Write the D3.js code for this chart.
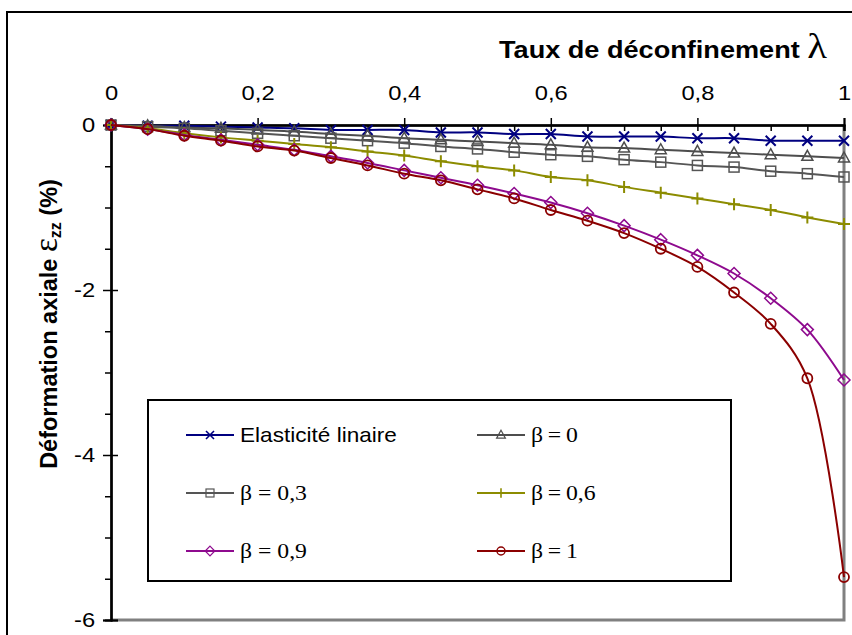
<!DOCTYPE html>
<head>
    <meta charset="utf-8">
    <script src="https://cdn.jsdelivr.net/npm/d3@7"></script>
    <style>
        body { margin: 0; background: #fff; }
    </style>
</head>
<body>
    <div id="chart"></div>
    <script>
        // taux de déconfinement (abscisse)
        const lambda = [0, 0.05, 0.1, 0.15, 0.2, 0.25, 0.3, 0.35, 0.4, 0.45, 0.5,
                        0.55, 0.6, 0.65, 0.7, 0.75, 0.8, 0.85, 0.9, 0.95, 1];

        // déformation axiale (%)
        const elastique = [0, -0.01, -0.01, -0.02, -0.03, -0.04, -0.06, -0.06, -0.06, -0.09, -0.09,
                           -0.11, -0.11, -0.14, -0.14, -0.14, -0.16, -0.16, -0.19, -0.19, -0.19];
        const beta0 = [0, -0.01, -0.03, -0.04, -0.06, -0.08, -0.11, -0.13, -0.16, -0.18, -0.20,
                       -0.22, -0.24, -0.27, -0.28, -0.30, -0.32, -0.34, -0.36, -0.38, -0.40];
        const beta03 = [0, -0.02, -0.04, -0.07, -0.10, -0.13, -0.16, -0.19, -0.22, -0.26, -0.29,
                        -0.33, -0.36, -0.38, -0.42, -0.45, -0.49, -0.51, -0.56, -0.59, -0.63];
        const beta06 = [0, -0.04, -0.10, -0.15, -0.19, -0.23, -0.27, -0.32, -0.37, -0.44, -0.50,
                        -0.55, -0.63, -0.67, -0.75, -0.82, -0.89, -0.96, -1.03, -1.12, -1.20];
        const beta09 = [0, -0.05, -0.12, -0.18, -0.24, -0.30, -0.38, -0.46, -0.55, -0.64, -0.73,
                        -0.83, -0.94, -1.07, -1.22, -1.39, -1.58, -1.80, -2.10, -2.48, -3.09];
        const beta1 = [0, -0.05, -0.13, -0.19, -0.26, -0.31, -0.40, -0.49, -0.59, -0.67, -0.78,
                       -0.89, -1.03, -1.16, -1.31, -1.50, -1.72, -2.03, -2.41, -3.07, -5.48];

        const xTicks = [0, 0.2, 0.4, 0.6, 0.8, 1];
        const xMinor = [0.05, 0.1, 0.15, 0.25, 0.3, 0.35, 0.45, 0.5, 0.55, 0.65, 0.7, 0.75, 0.85, 0.9, 0.95];
        const yTicks = [0, -2, -4, -6];
        const yMinor = [-0.5, -1, -1.5, -2.5, -3, -3.5, -4.5, -5, -5.5];

        const series = [
            { name: "Elasticité linaire", values: elastique, color: "#000080", symbol: "x", serif: false },
            { name: "β\u2009=\u20090", values: beta0, color: "#4d4d4d", symbol: "triangle", serif: true },
            { name: "β = 0,3", values: beta03, color: "#555555", symbol: "square", serif: true },
            { name: "β\u2009=\u20090,6", values: beta06, color: "#8c8c00", symbol: "plus", serif: true },
            { name: "β = 0,9", values: beta09, color: "#8e0a8e", symbol: "diamond", serif: true },
            { name: "β\u2009=\u20091", values: beta1, color: "#8b0000", symbol: "circle", serif: true }
        ];

        const sans = "'Liberation Sans', Arial, sans-serif";
        const serif = "'Liberation Serif', 'Times New Roman', serif";

        const width = 852, height = 635;
        const plotLeft = 111, plotRight = 844, plotTop = 125, plotBottom = 620;
        const sx = 1.13; // étirement horizontal du texte

        const x = d3.scaleLinear().domain([0, 1]).range([plotLeft, plotRight]);
        const y = d3.scaleLinear().domain([0, -6]).range([plotTop, plotBottom]);

        const svg = d3.select("#chart").append("svg")
            .attr("width", width)
            .attr("height", height)
            .style("font-family", sans);

        // cadre extérieur
        svg.append("rect")
            .attr("x", 7).attr("y", 12)
            .attr("width", 900).attr("height", 700)
            .attr("fill", "none").attr("stroke", "#000").attr("stroke-width", 2);

        // bordure de la zone de tracé (droite et bas)
        svg.append("path")
            .attr("d", `M${plotLeft},${plotBottom}H${plotRight}V${plotTop}`)
            .attr("fill", "none").attr("stroke", "#808080").attr("stroke-width", 3);

        // axe x en haut
        const xAxis = svg.append("g").attr("transform", `translate(0,${plotTop})`);
        xAxis.call(d3.axisTop(x).tickValues(xTicks).tickSize(7).tickFormat(d => String(d).replace(".", ",")));
        xAxis.append("g").call(d3.axisBottom(x).tickValues(xTicks).tickSize(6).tickFormat(""));
        xAxis.append("g").call(d3.axisBottom(x).tickValues(xMinor).tickSize(6).tickFormat(""));
        xAxis.selectAll(".domain").attr("stroke", "#000").attr("stroke-width", 2);
        xAxis.selectAll(".tick line").attr("stroke", "#000").attr("stroke-width", 1.5);
        xAxis.selectAll("text")
            .attr("y", -25)
            .attr("fill", "#000")
            .attr("transform", `scale(${sx},1)`)
            .style("font-family", sans)
            .style("font-size", "21px");

        // axe y à gauche
        const yAxis = svg.append("g").attr("transform", `translate(${plotLeft},0)`);
        yAxis.call(d3.axisLeft(y).tickValues(yTicks).tickSize(8).tickPadding(6).tickFormat(d => String(d)));
        yAxis.append("g").call(d3.axisRight(y).tickValues(yTicks).tickSize(7).tickFormat(""));
        yAxis.append("g").call(d3.axisLeft(y).tickValues(yMinor).tickSize(6).tickFormat(""));
        yAxis.selectAll(".domain").attr("stroke", "#000").attr("stroke-width", 2);
        yAxis.selectAll(".tick line").attr("stroke", "#000").attr("stroke-width", 1.5);
        yAxis.selectAll("text")
            .attr("fill", "#000")
            .attr("transform", `scale(${sx},1)`)
            .style("font-family", sans)
            .style("font-size", "21px");

        // titre de l'axe x
        const title = svg.append("text")
            .attr("transform", `translate(827,58) scale(${sx},1)`)
            .attr("text-anchor", "end");
        title.append("tspan").style("font-weight", "bold").style("font-size", "24px").text("Taux de déconfinement ");
        title.append("tspan").style("font-family", serif).style("font-size", "36px").text("λ");

        // titre de l'axe y
        const ylab = svg.append("text")
            .attr("transform", "translate(57,324) rotate(-90)")
            .attr("text-anchor", "middle");
        ylab.append("tspan").style("font-weight", "bold").style("font-size", "23.5px").text("Déformation axiale ");
        ylab.append("tspan").style("font-family", serif).style("font-size", "33px").text("ε");
        ylab.append("tspan").style("font-weight", "bold").style("font-size", "16px").attr("dy", 4).text("zz");
        ylab.append("tspan").style("font-weight", "bold").style("font-size", "23.5px").attr("dy", -4).text(" (%)");

        // symboles
        function marker(g, s) {
            const c = s.color;
            if (s.symbol === "x") {
                g.append("path").attr("d", "M-5,-5L5,5M-5,5L5,-5")
                    .attr("stroke", c).attr("stroke-width", 2).attr("fill", "none");
            } else if (s.symbol === "triangle") {
                g.append("path").attr("d", "M0,-6L5.5,4L-5.5,4Z")
                    .attr("stroke", c).attr("stroke-width", 1.5).attr("fill", "none");
            } else if (s.symbol === "square") {
                g.append("rect").attr("x", -5).attr("y", -5).attr("width", 10).attr("height", 10)
                    .attr("stroke", c).attr("stroke-width", 1.5).attr("fill", "none");
            } else if (s.symbol === "plus") {
                g.append("path").attr("d", "M-6,0H6M0,-6V6")
                    .attr("stroke", c).attr("stroke-width", 2).attr("fill", "none");
            } else if (s.symbol === "diamond") {
                g.append("path").attr("d", "M0,-6L6,0L0,6L-6,0Z")
                    .attr("stroke", c).attr("stroke-width", 1.5).attr("fill", "none");
            } else if (s.symbol === "circle") {
                g.append("circle").attr("r", 5)
                    .attr("stroke", c).attr("stroke-width", 1.8).attr("fill", "none");
            }
        }

        const line = d3.line()
            .x((d, i) => x(lambda[i]))
            .y(d => y(d))
            .curve(d3.curveCatmullRom.alpha(0.5));

        const plot = svg.append("g");
        series.forEach(s => {
            plot.append("path")
                .attr("d", line(s.values))
                .attr("fill", "none")
                .attr("stroke", s.color)
                .attr("stroke-width", 2);
            s.values.forEach((v, i) => {
                const g = plot.append("g").attr("transform", `translate(${x(lambda[i])},${y(v)})`);
                marker(g, s);
            });
        });

        // légende
        const legend = svg.append("g");
        legend.append("rect")
            .attr("x", 148).attr("y", 400)
            .attr("width", 583).attr("height", 181)
            .attr("fill", "#fff").attr("stroke", "#000").attr("stroke-width", 2);

        const rows = [435, 493, 551], cols = [186, 477];
        series.forEach((s, i) => {
            const lx = cols[i % 2], ly = rows[Math.floor(i / 2)];
            const item = legend.append("g").attr("transform", `translate(${lx},${ly})`);
            item.append("line").attr("x1", 0).attr("x2", 48)
                .attr("stroke", s.color).attr("stroke-width", 2);
            const m = item.append("g").attr("transform", "translate(24,0) scale(0.8)");
            marker(m, s);
            item.append("text")
                .attr("transform", `translate(54,7) scale(${sx},1)`)
                .style("font-size", s.serif ? "21px" : "20px")
                .style("font-family", s.serif ? serif : sans)
                .text(s.name);
        });
    </script>
</body>
